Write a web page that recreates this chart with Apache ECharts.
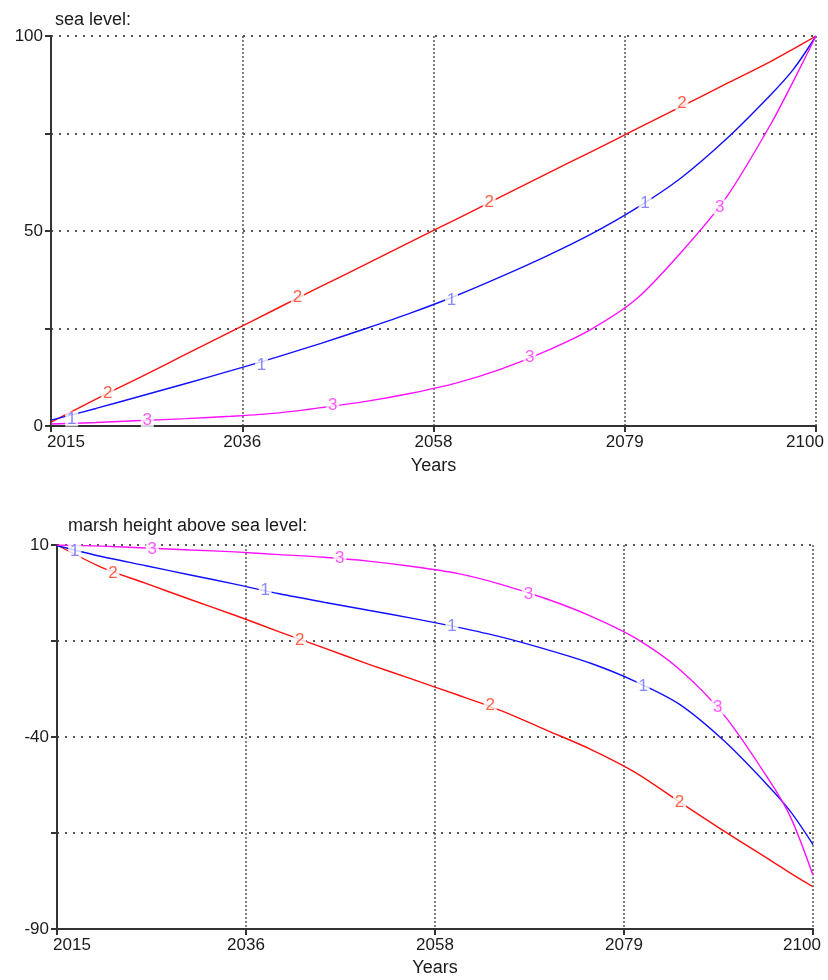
<!DOCTYPE html>
<html>
<head>
<meta charset="utf-8">
<script src="https://cdn.jsdelivr.net/npm/echarts@6/dist/echarts.min.js"></script>
<style>html,body{margin:0;padding:0;background:#fff}#c{width:828px;height:980px}</style>
</head>
<body>
<div id="c"></div>
<script>
// ---- data ----
const years = [2015,2020,2025,2030,2035,2040,2045,2050,2055,2060,2065,2070,2075,2080,2085,2090,2095,2097.5,2100];
const xTickLabels = ['2015','2036','2058','2079','2100'];

const seaLevel1 = [1.5,4.5,7.7,10.9,14.2,17.6,21.2,25.0,29.0,33.4,38.3,43.5,49.2,55.8,63.6,73.5,85.0,91.5,100];
const seaLevel2 = [1.0,6.9,12.6,18.4,24.2,30.0,35.8,41.5,47.3,53.0,58.8,64.6,70.3,76.1,81.9,87.7,93.5,96.7,100];
const seaLevel3 = [0.5,0.9,1.4,1.9,2.5,3.3,4.7,6.3,8.4,11.0,14.6,19.2,24.8,32.5,44.5,58.5,77.5,88.5,100];

const marsh1 = [9.8,7.0,4.6,2.2,-0.2,-2.7,-4.9,-7.0,-9.1,-11.4,-14.0,-17.2,-20.8,-25.5,-31.5,-41.0,-52.8,-59.5,-68];
const marsh2 = [10,4.2,0,-4.2,-8.3,-12.6,-16.8,-21.0,-25.0,-29.0,-33.2,-38.2,-43.2,-49.2,-56.9,-64.5,-71.8,-75.5,-79];
const marsh3 = [10,9.7,9.2,8.7,8.2,7.5,6.8,5.8,4.4,2.6,-0.3,-4.0,-8.5,-14.2,-22.4,-34.3,-51.0,-61.0,-76];

// series number markers drawn on the lines: [year, value]
const seaLabels1 = [[2017.3,1.8],[2038.4,15.6],[2059.5,32.3],[2081.0,57.0]];
const seaLabels2 = [[2021.3,8.5],[2042.4,33.0],[2063.7,57.4],[2085.1,82.8]];
const seaLabels3 = [[2025.7,1.5],[2046.3,5.4],[2068.2,17.7],[2089.3,56.2]];
const marshLabels1 = [[2017.0,8.4],[2038.4,-1.7],[2059.4,-11.1],[2080.9,-26.7]];
const marshLabels2 = [[2021.3,2.7],[2042.3,-14.7],[2063.7,-31.7],[2085.0,-56.9]];
const marshLabels3 = [[2025.7,9.0],[2046.8,6.6],[2068.0,-2.8],[2089.3,-32.2]];

// ---- build ----
const X0 = 2015, XSPAN = 85;
const seaMin = 0, marshMin = -90;
const FONT = '"Liberation Sans", Arial, sans-serif';
const colors = {1:'#1010ff', 2:'#ff1010', 3:'#ff10ff'};
const labelColors = {1:'#6a6aff', 2:'#ff3a1a', 3:'#ff33ff'};

function lineData(vals, yOff){ return years.map((y,i)=>[y - X0, vals[i] - yOff]); }
function markData(pts, yOff){ return pts.map(p=>[p[0]-X0, p[1]-yOff]); }

function xAxis(gi){
  return {
    type:'value', gridIndex:gi, min:0, max:XSPAN, interval:XSPAN/4,
    name:'Years', nameLocation:'middle', nameGap: gi===0?31:30,
    nameTextStyle:{color:'#1a1a1a', fontSize:18, fontFamily:FONT},
    axisLine:{show:true, onZero:false, lineStyle:{color:'#333', width:2}},
    axisTick:{show:true, length:6, lineStyle:{color:'#333', width:2}},
    axisLabel:{
      color:'#1a1a1a', fontSize:17, fontFamily:FONT, margin:8,
      formatter:(v)=>{
        const idx = Math.round(v/(XSPAN/4));
        const t = xTickLabels[idx];
        if(idx===0) return '{f|'+t+'}';
        if(idx===4) return '{l|'+t+'}';
        return t;
      },
      rich:{
        f:{color:'#1a1a1a', fontSize:17, fontFamily:FONT, padding:[0,0,0,30]},
        l:{color:'#1a1a1a', fontSize:17, fontFamily:FONT, padding:[0,22,0,0]}
      }
    },
    splitLine:{show:true, lineStyle:{color:'#555', width:1.5, type:[2,2]}}
  };
}
function yAxis(gi, off){
  return {
    type:'value', gridIndex:gi, min:0, max:100, interval:25,
    axisLine:{show:true, onZero:false, lineStyle:{color:'#333', width:2}},
    axisTick:{show:true, length:6, lineStyle:{color:'#333', width:2}},
    axisLabel:{
      color:'#1a1a1a', fontSize:17, fontFamily:FONT, margin:8,
      formatter:(v)=> (Math.round(v)%50===0 ? String(Math.round(v+off)) : '')
    },
    splitLine:{show:true, lineStyle:{color:'#555', width:2, type:[2,6]}}
  };
}
function lineSeries(gi, n, vals, yOff){
  return {
    type:'line', xAxisIndex:gi, yAxisIndex:gi, data:lineData(vals,yOff),
    showSymbol:false, smooth:0.3, silent:true,
    lineStyle:{color:colors[n], width:1.4}, z:2
  };
}
function markSeries(gi, n, pts, yOff){
  return {
    type:'scatter', xAxisIndex:gi, yAxisIndex:gi, data:markData(pts,yOff),
    symbol:'rect', symbolSize:[13,15], silent:true,
    itemStyle:{color:'#fff'}, z:5,
    label:{show:true, position:'inside', formatter:String(n),
      color:labelColors[n], fontSize:17, fontFamily:FONT}
  };
}

const option = {
  animation:false,
  backgroundColor:'#fff',
  title:[
    {text:'sea level:', left:50, top:6, textStyle:{color:'#1a1a1a', fontSize:18, fontWeight:'normal', fontFamily:FONT}},
    {text:'marsh height above sea level:', left:63, top:512, textStyle:{color:'#1a1a1a', fontSize:18, fontWeight:'normal', fontFamily:FONT}}
  ],
  grid:[
    {left:51, top:36, width:765, height:390},
    {left:57, top:545, width:756, height:384}
  ],
  xAxis:[xAxis(0), xAxis(1)],
  yAxis:[yAxis(0, seaMin), yAxis(1, marshMin)],
  series:[
    lineSeries(0,2,seaLevel2,seaMin),
    lineSeries(0,1,seaLevel1,seaMin),
    lineSeries(0,3,seaLevel3,seaMin),
    markSeries(0,1,seaLabels1,seaMin),
    markSeries(0,2,seaLabels2,seaMin),
    markSeries(0,3,seaLabels3,seaMin),
    lineSeries(1,2,marsh2,marshMin),
    lineSeries(1,1,marsh1,marshMin),
    lineSeries(1,3,marsh3,marshMin),
    markSeries(1,1,marshLabels1,marshMin),
    markSeries(1,2,marshLabels2,marshMin),
    markSeries(1,3,marshLabels3,marshMin)
  ]
};
echarts.init(document.getElementById('c'), null, {renderer:'canvas'}).setOption(option);
</script>
</body>
</html>
